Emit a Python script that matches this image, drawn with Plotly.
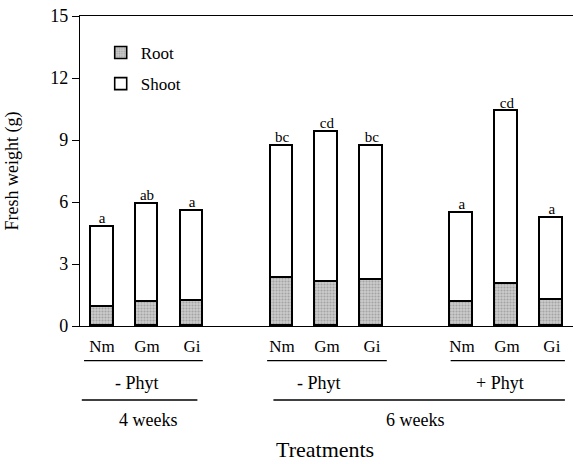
import plotly.graph_objects as go

# ---- data ----
treatments = ["Nm", "Gm", "Gi"]
phyt_groups = ["- Phyt", "- Phyt", "+ Phyt"]
week_groups = ["4 weeks", "6 weeks"]
root = [0.94, 1.17, 1.22, 2.33, 2.12, 2.21, 1.18, 2.05, 1.27]
shoot = [3.85, 4.75, 4.34, 6.37, 7.28, 6.50, 4.30, 8.33, 3.96]
letters = ["a", "ab", "a", "bc", "cd", "bc", "a", "cd", "a"]
y_ticks = [0, 3, 6, 9, 12, 15]

# ---- derived ----
n_groups = len(phyt_groups)
pos = [g * (len(treatments) + 1) + i for g in range(n_groups) for i in range(len(treatments))]
labels = treatments * n_groups
total = [r + s for r, s in zip(root, shoot)]

FONT = "Liberation Serif, Times New Roman, serif"
W, H = 573, 464
L, R, T, B = 80, 0, 16, 138
plot_h = H - T - B


def py2paper(py):
    return (H - B - py) / plot_h


fig = go.Figure()
fig.add_trace(go.Bar(
    x=pos, y=root, name="Root", width=0.51, legendgroup="root",
    marker=dict(color="#cccccc", line=dict(color="black", width=1.6),
                pattern=dict(shape=".", size=3, solidity=0.4, fgcolor="#7a7a7a", fillmode="overlay")),
))
fig.add_trace(go.Bar(
    x=pos, y=shoot, name="Shoot", width=0.51, legendgroup="shoot",
    marker=dict(color="white", line=dict(color="black", width=1.6)),
))
fig.add_trace(go.Scatter(
    x=pos, y=total, mode="text", text=letters, textposition="top center",
    textfont=dict(family=FONT, size=15, color="black"), showlegend=False, hoverinfo="skip",
))

# grouping lines and labels below the axis
shapes = []
annotations = []
row1_spans = [(-0.40, 2.24), (3.67, 6.33), (7.75, 10.29)]
for (a, b) in row1_spans:
    shapes.append(dict(type="line", xref="x", yref="paper", x0=a, x1=b,
                       y0=py2paper(360.7), y1=py2paper(360.7), line=dict(color="black", width=1.3)))
phyt_centers = [0.77, 4.82, 8.84]
for txt, cx in zip(phyt_groups, phyt_centers):
    annotations.append(dict(text=txt, x=cx, xref="x", y=py2paper(383), yref="paper", yanchor="middle",
                            showarrow=False, font=dict(family=FONT, size=18, color="black")))
row2_spans = [(-0.45, 2.12), (3.81, 10.29)]
for (a, b) in row2_spans:
    shapes.append(dict(type="line", xref="x", yref="paper", x0=a, x1=b,
                       y0=py2paper(400), y1=py2paper(400), line=dict(color="black", width=1.3)))
week_centers = [1.02, 6.96]
for txt, cx in zip(week_groups, week_centers):
    annotations.append(dict(text=txt, x=cx, xref="x", y=py2paper(420), yref="paper", yanchor="middle",
                            showarrow=False, font=dict(family=FONT, size=18, color="black")))
annotations.append(dict(text="Treatments", x=4.96, xref="x", y=py2paper(463.5), yref="paper", yanchor="bottom",
                        showarrow=False, font=dict(family=FONT, size=22, color="black")))

fig.update_layout(
    width=W, height=H,
    margin=dict(l=L, r=R, t=T, b=B),
    paper_bgcolor="white", plot_bgcolor="white",
    barmode="stack", bargap=0,
    font=dict(family=FONT, size=17, color="black"),
    showlegend=True,
    legend=dict(x=0.042, y=py2paper(35), xanchor="left", yanchor="top",
                traceorder="grouped", tracegroupgap=6,
                font=dict(family=FONT, size=17, color="black"), bgcolor="rgba(0,0,0,0)"),
    shapes=shapes, annotations=annotations,
    xaxis=dict(range=[-0.49, 10.47], tickvals=pos, ticktext=labels, showgrid=False, zeroline=False,
               showline=True, linecolor="black", linewidth=1.3, mirror=True, ticks="",
               ticklabelstandoff=4,
               tickfont=dict(family=FONT, size=17, color="black")),
    yaxis=dict(range=[0, 15], tickvals=y_ticks, showgrid=False, zeroline=False,
               showline=True, linecolor="black", linewidth=1.3, ticks="outside", ticklen=7,
               tickcolor="black", tickwidth=1.2,
               tickfont=dict(family=FONT, size=18, color="black"),
               title=dict(text="Fresh weight (g)", font=dict(family=FONT, size=18, color="black"), standoff=26)),
)

fig.write_html("out.html", config={"displayModeBar": False},
               post_script="document.body.style.margin='0';document.body.style.overflow='hidden';")
